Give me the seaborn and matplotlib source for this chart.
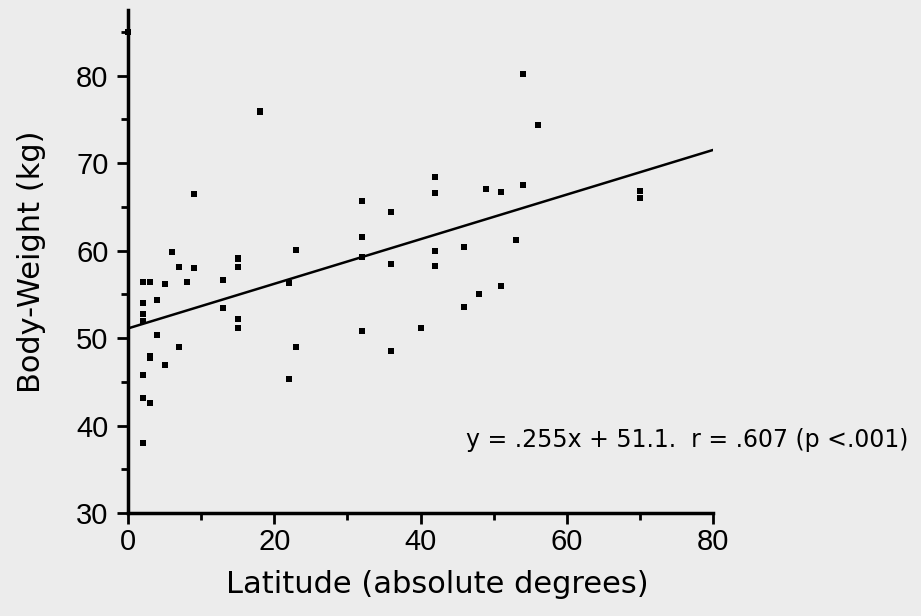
import matplotlib
matplotlib.use("Agg")
import matplotlib.pyplot as plt
import seaborn as sns
import numpy as np
import pandas as pd
from matplotlib.ticker import MultipleLocator

latitude = [0, 18, 18, 9, 6, 15, 23,
            2, 3, 5, 7, 9, 8, 13, 15, 15,
            2, 4, 2, 2, 13, 15, 15, 22,
            4, 7, 23, 3, 3, 5, 2, 22, 2, 3, 2,
            32, 36, 42, 42, 49, 51, 54, 32, 32, 36, 42, 42, 46, 53,
            51, 48, 46, 40, 32, 36, 54, 56, 70, 70]
body_weight = [85.0, 75.8, 76.0, 66.5, 59.8, 59.1, 60.1,
               56.4, 56.4, 56.2, 58.1, 58.0, 56.4, 56.6, 59.0, 58.1,
               54.0, 54.4, 52.7, 51.9, 53.4, 52.2, 51.2, 56.3,
               50.3, 49.0, 49.0, 48.0, 47.7, 46.9, 45.8, 45.3, 43.2, 42.6, 38.0,
               65.7, 64.4, 68.4, 66.6, 67.0, 66.7, 67.5, 61.5, 59.3, 58.5, 59.9, 58.2, 60.4, 61.2,
               55.9, 55.0, 53.5, 51.1, 50.8, 48.5, 80.2, 74.4, 66.8, 66.0]
slope = 0.255
intercept = 51.1
fit_range = [0, 80]
annotation = "y = .255x + 51.1.  r = .607 (p <.001)"

sns.set_style("ticks")
plt.rcParams['font.family'] = ['Liberation Sans', 'DejaVu Sans']
bg = "#ececec"

fig = plt.figure(figsize=(9.21, 6.16), dpi=100, facecolor=bg)
ax = fig.add_axes([128/921, 1-513/616, (713-128)/921, (513-10)/616])
ax.set_facecolor(bg)

df = pd.DataFrame({"lat": latitude, "bw": body_weight})
sns.scatterplot(data=df, x="lat", y="bw", ax=ax, marker="s", s=22,
                color="black", edgecolor="black", linewidth=0, clip_on=False, zorder=3)

xs = np.array(fit_range, dtype=float)
sns.lineplot(x=xs, y=slope*xs + intercept, ax=ax, color="black", lw=1.8)

ax.set_xlim(0, 80)
ax.set_ylim(30, 87.5)
ax.xaxis.set_major_locator(MultipleLocator(20))
ax.xaxis.set_minor_locator(MultipleLocator(10))
ax.yaxis.set_major_locator(MultipleLocator(10))
ax.yaxis.set_minor_locator(MultipleLocator(5))
ax.set_yticks([30, 40, 50, 60, 70, 80])
ax.tick_params(axis="both", which="major", length=8, width=2, labelsize=21, color="black", labelcolor="black")
ax.tick_params(axis="x", which="major", pad=3)
ax.tick_params(axis="y", which="major", pad=6)
ax.tick_params(axis="both", which="minor", length=5, width=2, color="black")
for sp in ["top", "right"]:
    ax.spines[sp].set_visible(False)
for sp in ["left", "bottom"]:
    ax.spines[sp].set_linewidth(2.5)
    ax.spines[sp].set_color("black")

ax.set_xlabel("Latitude (absolute degrees)", fontsize=22, color="black",
              family=["DejaVu Sans"])
ax.xaxis.set_label_coords(0.528, -0.113)
ax.set_ylabel("Body-Weight (kg)", fontsize=22, labelpad=22, color="black",
              family=["DejaVu Sans"])

ax.text(908/921, 1-440/616, annotation, transform=fig.transFigure,
        ha="right", va="center", fontsize=17, color="black", family=["DejaVu Sans"])

fig.savefig("out.png", dpi=100, facecolor=bg)
